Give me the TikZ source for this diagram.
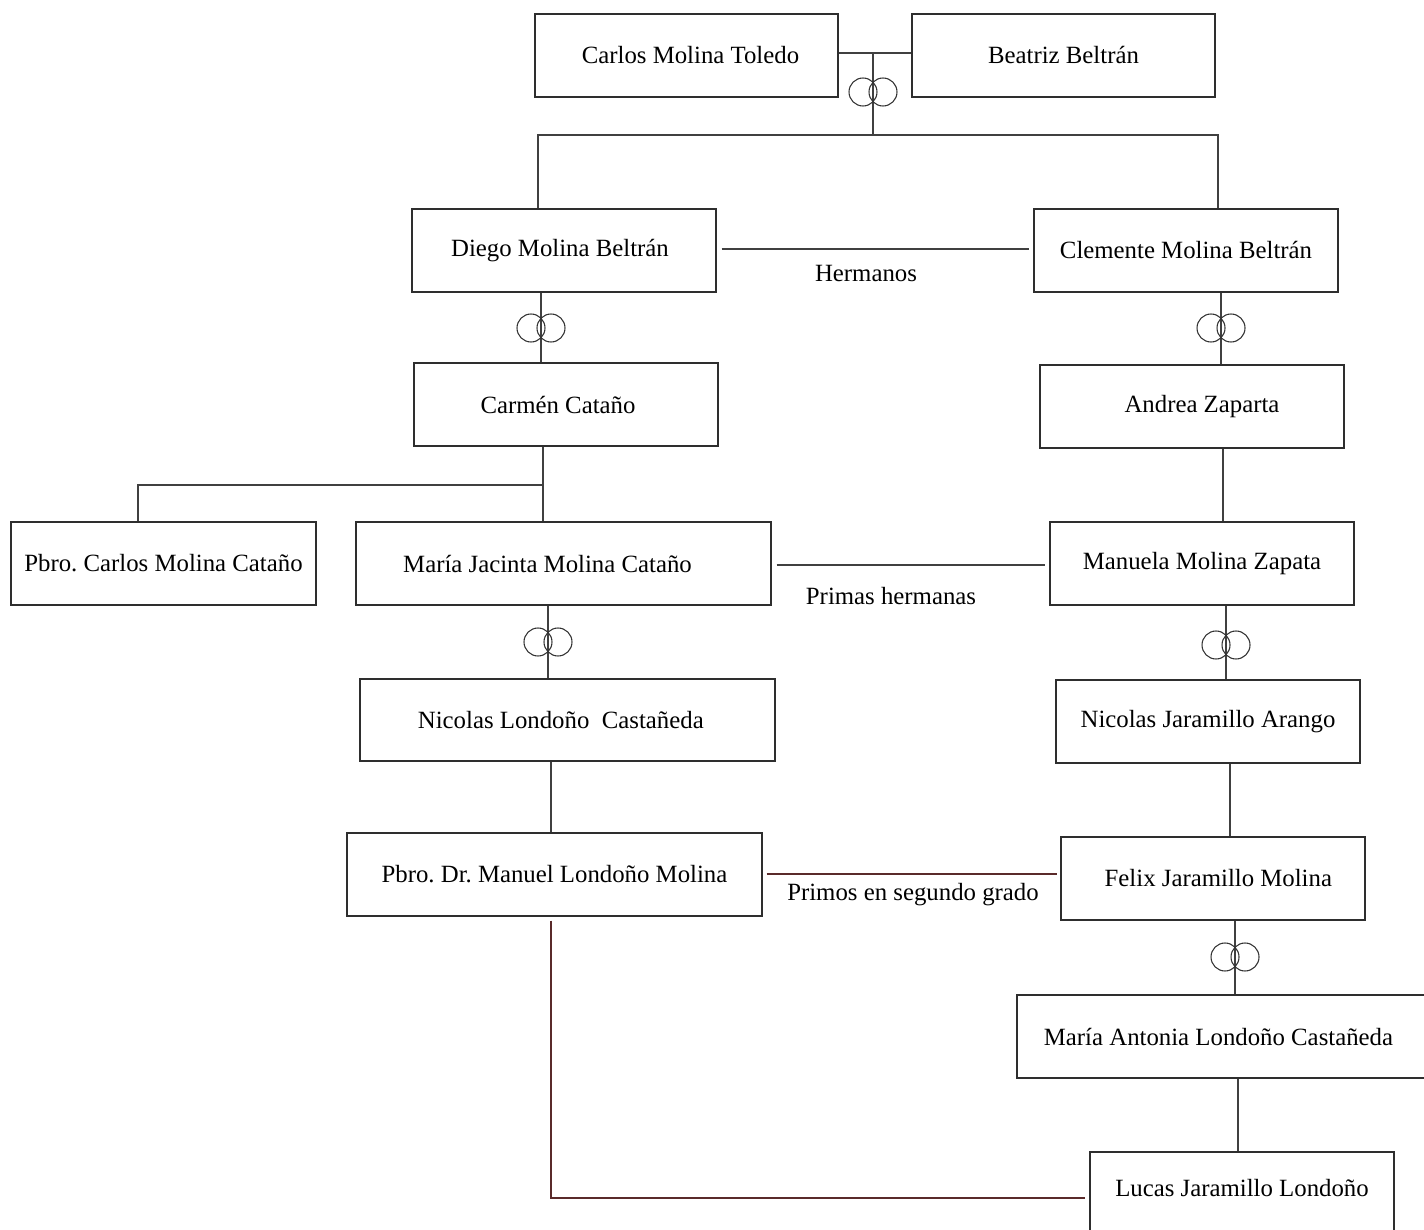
\documentclass[tikz,border=0pt]{standalone}
\usepackage{fontspec}
\setmainfont{Liberation Serif}
\frenchspacing
\definecolor{linec}{HTML}{404040}
\definecolor{boxc}{HTML}{2E2E2E}
\definecolor{brownc}{HTML}{5A2A2A}
\definecolor{ringc}{HTML}{333333}
\newcommand\rings[1]{\draw[ring] ([xshift=-7.5pt]#1) circle[radius=10.5pt] ([xshift=7.5pt]#1) circle[radius=10.5pt];}
\newcommand\pbox[6]{\node[box, minimum width={(#4-#2)*0.75pt}, minimum height={(#5-#3)*0.75pt}] (#1) at ({(#2+#4)/2},{(#3+#5)/2}) {#6};}
\begin{document}
\begin{tikzpicture}[x=0.75pt,y=-0.75pt,
  box/.style={draw=boxc, line width=1pt, inner sep=0pt, font=\fontsize{18.6}{22}\selectfont\frenchspacing, text=black},
  ln/.style={draw=linec, line width=1.1pt},
  br/.style={draw=brownc, line width=1.1pt},
  ring/.style={draw=ringc, line width=0.8pt},
  lbl/.style={font=\fontsize{18.6}{22}\selectfont, inner sep=0pt, text=black}]
\fill[white] (0,0) rectangle (1424,1230);
\useasboundingbox (0,0) rectangle (1424,1230);

% boxes
\pbox{carlos}{535}{14}{838}{97}{\hspace*{6pt}Carlos Molina Toledo}
\pbox{beatriz}{912}{14}{1215}{97}{Beatriz Beltrán}
\pbox{diego}{412}{209}{716}{292}{Diego Molina Beltrán\hspace*{6pt}}
\pbox{clemente}{1034}{209}{1338}{292}{Clemente Molina Beltrán}
\pbox{carmen}{414}{363}{718}{446}{Carmén Cataño\hspace*{12pt}}
\pbox{andrea}{1040}{365}{1344}{448}{\hspace*{15pt}Andrea Zaparta}
\pbox{pcarlos}{11}{522}{316}{605}{Pbro. Carlos Molina Cataño}
\pbox{mjac}{356}{522}{771}{605}{María Jacinta Molina Cataño\hspace*{24pt}}
\pbox{manuela}{1050}{522}{1354}{605}{Manuela Molina Zapata}
\pbox{nlon}{360}{679}{775}{761}{Nicolas Londoño~ Castañeda\hspace*{10pt}}
\pbox{njar}{1056}{680}{1360}{763}{Nicolas Jaramillo Arango}
\pbox{manuel}{347}{833}{762}{916}{Pbro. Dr. Manuel Londoño Molina}
\pbox{felix}{1061}{837}{1365}{920}{\hspace*{8pt}Felix Jaramillo Molina}
\pbox{mant}{1017}{995}{1428}{1078}{María Antonia Londoño Castañeda\hspace*{6pt}}
\pbox{lucas}{1090}{1152}{1394}{1240}{\raisebox{0pt}[\height][\dimexpr\depth+12pt\relax]{Lucas Jaramillo Londoño}}

% labels
\node[lbl] (herm) at (866,274) {Hermanos};
\node[lbl] (primas) at (891,596) {Primas hermanas};
\node[lbl] (primos) at (913,895) {Primos en segundo grado};

% coordinates
\coordinate (mA) at (873,53);
\coordinate (jA) at (873,135);
\coordinate (jAL) at (538,135);
\coordinate (jAR) at (1218,135);
\coordinate (xD) at (541,0);
\coordinate (xC) at (1221,0);
\coordinate (xCa) at (543,0);
\coordinate (jB) at (543,485);
\coordinate (jBL) at (138,485);
\coordinate (xAn) at (1223,0);
\coordinate (xMJ) at (548,0);
\coordinate (xMa) at (1226,0);
\coordinate (xNL) at (551,0);
\coordinate (xNJ) at (1230,0);
\coordinate (yH) at (0,249);
\coordinate (yPh) at (0,565);
\coordinate (yPs) at (0,874);
\coordinate (xF) at (1235,0);
\coordinate (xMA) at (1238,0);
\coordinate (jL) at (551,1198);
\coordinate (rA) at (873,92);
\coordinate (rB) at (541,328);
\coordinate (rC) at (1221,328);
\coordinate (rD) at (548,642);
\coordinate (rE) at (1226,645);
\coordinate (rF) at (1235,957);

% founders
\draw[ln] (carlos.east |- mA) -- (beatriz.west |- mA);
\draw[ln] (mA) -- (jA);
\draw[ln] (diego.north -| jAL) -- (jAL) -- (jAR) -- (clemente.north -| jAR);
\rings{rA}

% brothers
\draw[ln] ([xshift=3.75pt]diego.east |- yH) -- ([xshift=-3pt]clemente.west |- yH);

% marriages generation 2
\draw[ln] (diego.south -| xD) -- (carmen.north -| xD);
\rings{rB}
\draw[ln] (clemente.south -| xC) -- (andrea.north -| xC);
\rings{rC}

% children
\draw[ln] (carmen.south -| xCa) -- (mjac.north -| xCa);
\draw[ln] (jB) -- (jBL) -- (pcarlos.north -| jBL);
\draw[ln] (andrea.south -| xAn) -- (manuela.north -| xAn);

% cousins
\draw[ln] ([xshift=3.75pt]mjac.east |- yPh) -- ([xshift=-3pt]manuela.west |- yPh);

% marriages generation 3
\draw[ln] (mjac.south -| xMJ) -- (nlon.north -| xMJ);
\rings{rD}
\draw[ln] (manuela.south -| xMa) -- (njar.north -| xMa);
\rings{rE}

% next generation
\draw[ln] (nlon.south -| xNL) -- (manuel.north -| xNL);
\draw[ln] (njar.south -| xNJ) -- (felix.north -| xNJ);
\draw[br] ([xshift=3pt]manuel.east |- yPs) -- ([xshift=-2.25pt]felix.west |- yPs);

\draw[ln] (felix.south -| xF) -- (mant.north -| xF);
\rings{rF}
\draw[ln] (mant.south -| xMA) -- (lucas.north -| xMA);

\draw[br] ([yshift=-3pt]manuel.south -| xNL) -- (jL) -- ([xshift=-3pt]lucas.west |- jL);
\end{tikzpicture}
\end{document}
